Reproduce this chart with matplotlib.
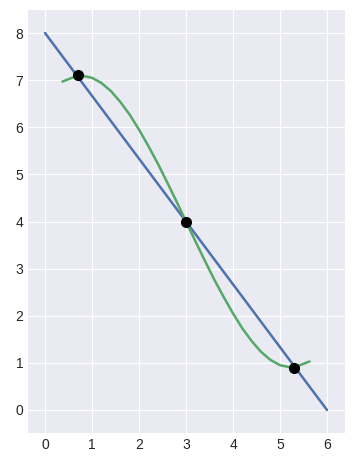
import matplotlib
matplotlib.use('Agg')
from matplotlib import pyplot as plt

# linea recta
line_x = [0, 6]
line_y = [8, 0]

# curva verde
curve_x = [0.37, 0.4, 0.6, 0.8, 1.0, 1.2, 1.4, 1.6, 1.8, 2.0, 2.2, 2.4, 2.6, 2.8, 3.0,
           3.2, 3.4, 3.6, 3.8, 4.0, 4.2, 4.4, 4.6, 4.8, 5.0, 5.2, 5.4, 5.6, 5.63]
curve_y = [6.97, 6.98, 7.06, 7.09, 7.05, 6.94, 6.77, 6.54, 6.27, 5.95, 5.60, 5.23, 4.83, 4.42, 4.0,
           3.58, 3.17, 2.77, 2.40, 2.05, 1.73, 1.46, 1.23, 1.06, 0.95, 0.91, 0.94, 1.02, 1.03]

# intersecciones
pts_x = [0.7, 3.0, 5.3]
pts_y = [7.1, 4.0, 0.9]

plt.style.use('seaborn-v0_8-darkgrid')
plt.rcParams['font.family'] = ['Liberation Sans', 'DejaVu Sans']

fig = plt.figure(figsize=(3.55, 4.67), dpi=100)
ax = fig.add_axes([28 / 355, (467 - 432.7) / 467, 317 / 355, 423.2 / 467])

ax.plot(line_x, line_y, color='#4C72B0', lw=1.8)
ax.plot(curve_x, curve_y, color='#55A868', lw=1.8)
ax.plot(pts_x, pts_y, 'o', color='black', ms=7)

ax.set_xlim(-0.362, 6.383)
ax.set_ylim(-0.482, 8.499)
ax.set_xticks(range(0, 7))
ax.set_yticks(range(0, 9))
ax.tick_params(labelsize=10, colors='#262626')

fig.savefig('out.png', dpi=100)
